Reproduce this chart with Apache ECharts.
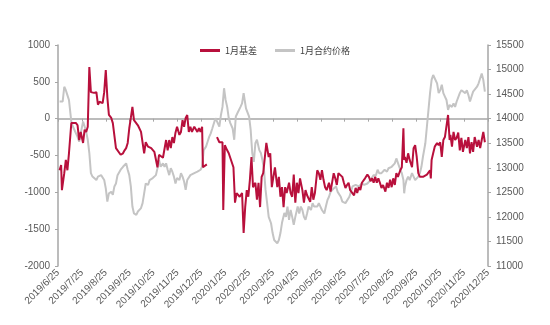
<!DOCTYPE html>
<html>
<head>
<meta charset="utf-8">
<script src="https://cdn.jsdelivr.net/npm/echarts@6/dist/echarts.min.js"></script>
<style>
html,body{margin:0;padding:0;background:#fff;}
#c{width:550px;height:325px;}
</style>
</head>
<body>
<div id="c"></div>
<script>
// x positions are days after 2019/6/25
const tickLabels = ['2019/6/25','2019/7/25','2019/8/25','2019/9/25','2019/10/25','2019/11/25','2019/12/25',
  '2020/1/25','2020/2/25','2020/3/25','2020/4/25','2020/5/25','2020/6/25','2020/7/25','2020/8/25',
  '2020/9/25','2020/10/25','2020/11/25','2020/12/25'];

const seriesNames = ['1月基差', '1月合约价格'];

// 1月基差 (left axis); null = no data
const redDays = [2,4,5,8,10,12,14,17,19,23,25,27,29,32,34,36,38,40,42,46,49,51,53,57,59,61,63,65,68,70,74,76,80,83,85,87,89,91,93,95,97,102,106,110,112,115,119,123,127,129,134,138,140,142,144,146,148,150,152,155,157,159,161,163,165,167,169,171,174,178,180,182,184,185,187,190,
  196,
  203,206,208,210,211,213,216,218,224,226,228,232,235,237,239,241,243,245,247,249,252,254,256,258,260,262,266,269,271,273,275,277,280,282,284,286,288,290,292,295,297,299,301,303,305,307,309,312,314,316,318,320,322,324,326,328,331,333,335,337,339,341,343,346,348,350,352,354,356,358,360,363,365,367,369,371,373,375,378,380,382,384,386,388,392,395,397,399,401,403,405,407,409,411,413,415,418,420,422,424,426,428,430,432,434,437,439,441,442,443,445,447,449,452,454,456,458,460,462,464,466,471,473,475,476,477,479,481,484,486,488,490,492,494,496,498,500,501,503,505,507,509,511,513,515,517,520,522,524,526,528,530,532,535,537,539,541,543,545];
const redValues = [-700,-630,-970,-740,-560,-700,-470,-60,-50,-60,-90,-290,-180,-330,-150,-180,-110,700,360,350,360,190,230,210,360,660,290,50,10,-60,-400,-380,-490,-470,-430,-400,-330,-130,10,160,-20,-90,-180,-470,-320,-380,-400,-450,-660,-490,-530,-290,-430,-290,-400,-250,-330,-190,-110,-220,-180,-20,-110,10,50,-180,-110,-180,-110,-180,-130,-180,-110,-660,-660,-620,
  null,
  -250,-320,-330,-320,-1240,-360,-430,-470,-660,-1140,-1010,-1060,-1010,-1550,-1200,-970,-1060,-830,-520,-930,-870,-1100,-870,-1200,-790,-740,-330,-520,-470,-930,-790,-660,-930,-790,-1060,-930,-1200,-930,-1010,-870,-1010,-1060,-760,-1140,-870,-1010,-810,-970,-1140,-970,-1040,-1040,-1130,-930,-1100,-1010,-700,-740,-830,-700,-830,-930,-970,-870,-990,-1010,-740,-810,-900,-740,-760,-790,-870,-940,-900,-870,-970,-990,-1040,-940,-1010,-930,-970,-870,-810,-760,-790,-850,-810,-870,-790,-870,-810,-870,-940,-900,-990,-870,-940,-830,-930,-810,-900,-740,-790,-700,-660,-130,-560,-520,-600,-470,-560,-660,-400,-360,-520,-740,-790,-810,-790,-760,-740,-700,-810,-560,-470,-380,-330,-360,-320,-520,-290,-250,-260,50,-290,-220,-380,-180,-290,-260,-190,-430,-260,-450,-290,-400,-250,-470,-320,-450,-250,-380,-290,-400,-290,-180,-320];

// 1月合约价格 (right axis)
const greyDays = [2,4,6,8,10,12,14,17,19,21,23,25,27,29,32,34,36,38,40,42,44,46,49,51,53,55,57,59,61,63,65,68,70,72,74,76,78,80,83,85,87,89,91,93,95,97,100,102,104,106,108,110,112,115,117,119,121,123,125,127,129,131,134,136,138,140,142,144,146,148,150,152,155,157,159,161,163,165,167,169,171,174,176,178,180,182,184,186,189,191,193,195,197,199,201,203,206,208,210,212,214,216,218,220,223,225,227,229,231,233,235,237,240,242,244,246,248,250,252,254,257,259,261,263,265,267,269,272,274,276,278,280,282,284,286,289,291,293,295,297,299,301,303,306,308,310,312,314,316,318,320,323,325,327,329,331,333,335,337,340,342,344,346,348,350,352,355,357,359,361,363,365,367,369,372,374,376,378,380,382,384,386,388,391,393,395,397,399,401,403,406,408,410,413,415,417,420,422,424,426,428,430,432,434,437,439,441,442,443,445,447,449,452,454,456,458,460,462,464,466,469,471,473,475,477,479,481,484,486,488,490,492,494,496,498,500,503,505,507,509,511,513,515,517,520,522,524,526,528,530,532,535,537,539,541,543,545];
const greyValues = [14350,14380,14350,14650,14580,14480,14380,13940,13840,13770,13730,13630,13530,13700,13940,13840,13730,13570,13300,12890,12820,12790,12750,12820,12790,12850,12850,12750,12580,12310,12480,12510,12450,12620,12680,12850,12890,12960,13020,13060,13090,12960,12850,12620,12210,12070,12040,12110,12140,12180,12280,12480,12680,12650,12750,12720,12790,12820,12850,12990,13160,13020,13090,13020,13090,12960,12850,12990,12920,12820,12680,12790,12750,12890,12820,12720,12550,12750,12790,12850,12820,12890,12850,12920,12890,12960,13020,13360,13430,13530,13630,13700,13800,13840,14010,13970,13840,14070,14240,14620,14380,14240,14010,13910,13800,13570,14040,14110,14070,14240,14310,14520,14210,14180,14040,13770,13300,13120,13500,13570,13360,13300,13160,12960,12550,12280,12000,11870,11670,11530,11490,11460,11530,11670,11880,12080,12000,12210,11940,12140,12000,11840,12000,12210,12070,12210,12140,12000,11940,12070,12210,12140,12280,12210,12240,12210,12280,12210,12140,12070,12210,12340,12410,12510,12480,12580,12620,12510,12480,12410,12310,12310,12280,12280,12410,12510,12620,12650,12650,12650,12620,12620,12680,12650,12680,12680,12720,12750,12790,12850,12850,12960,12890,12890,12850,12960,12920,12990,12960,13020,13020,13090,13190,13160,12960,12890,12750,12480,12620,12750,12820,12750,12890,12820,12750,12720,12820,12890,13020,13230,13500,13840,14180,14520,14790,14890,14920,14720,14520,14580,14690,14520,14450,14380,14180,14280,14240,14310,14240,14350,14380,14520,14580,14550,14520,14580,14480,14350,14450,14550,14580,14650,14720,14750,14920,14790,14550];

const monthStep = 30.5;
const axisGrey = '#a6a6a6';
const labelGrey = '#595959';

const redData = redDays.map((d, i) => [d, redValues[i] === null ? '-' : redValues[i]]);
const greyData = greyDays.map((d, i) => [d, greyValues[i]]);

const chart = echarts.init(document.getElementById('c'), null, {renderer: 'canvas'});
chart.setOption({
  animation: false,
  backgroundColor: '#ffffff',
  grid: {left: 58, right: 62, top: 45, bottom: 59, containLabel: false},
  legend: {
    top: 41,
    left: 'center',
    itemWidth: 20,
    itemHeight: 3,
    itemGap: 18,
    icon: 'rect',
    data: [seriesNames[0], seriesNames[1]],
    textStyle: {fontFamily: '"Noto Sans CJK SC", sans-serif', fontSize: 9, color: '#404040'}
  },
  xAxis: {
    type: 'value',
    min: 0,
    max: monthStep * (tickLabels.length - 1),
    interval: monthStep,
    splitLine: {show: false},
    axisLine: {lineStyle: {color: axisGrey, width: 1.5}},
    axisTick: {show: true, length: 3, lineStyle: {color: axisGrey}},
    axisLabel: {
      rotate: 45,
      fontFamily: 'Liberation Sans, Arial, sans-serif',
      fontSize: 10,
      color: labelGrey,
      margin: 5,
      showMaxLabel: true,
      showMinLabel: true,
      formatter: v => tickLabels[Math.round(v / monthStep)] || ''
    }
  },
  yAxis: [
    {
      type: 'value', min: -2000, max: 1000, interval: 500, position: 'left',
      splitLine: {show: false},
      axisLine: {show: true, lineStyle: {color: axisGrey, width: 1.5}},
      axisTick: {show: true, length: 3, lineStyle: {color: axisGrey}},
      axisLabel: {fontFamily: 'Liberation Sans, Arial, sans-serif', fontSize: 10, color: labelGrey, margin: 8,
        formatter: v => String(v)}
    },
    {
      type: 'value', min: 11000, max: 15500, interval: 500, position: 'right',
      splitLine: {show: false},
      axisLine: {show: true, lineStyle: {color: axisGrey, width: 1.5}},
      axisTick: {show: true, length: 3, lineStyle: {color: axisGrey}},
      axisLabel: {fontFamily: 'Liberation Sans, Arial, sans-serif', fontSize: 10, color: labelGrey, margin: 8,
        formatter: v => String(v)}
    }
  ],
  series: [
    {
      name: seriesNames[1], type: 'line', yAxisIndex: 1, data: greyData,
      showSymbol: false, symbol: 'none', z: 2,
      lineStyle: {color: '#c4c4c4', width: 2},
      itemStyle: {color: '#c4c4c4'}
    },
    {
      name: seriesNames[0], type: 'line', yAxisIndex: 0, data: redData,
      showSymbol: false, symbol: 'none', connectNulls: false, z: 3,
      lineStyle: {color: '#b8103c', width: 2},
      itemStyle: {color: '#b8103c'}
    }
  ]
});
</script>
</body>
</html>
